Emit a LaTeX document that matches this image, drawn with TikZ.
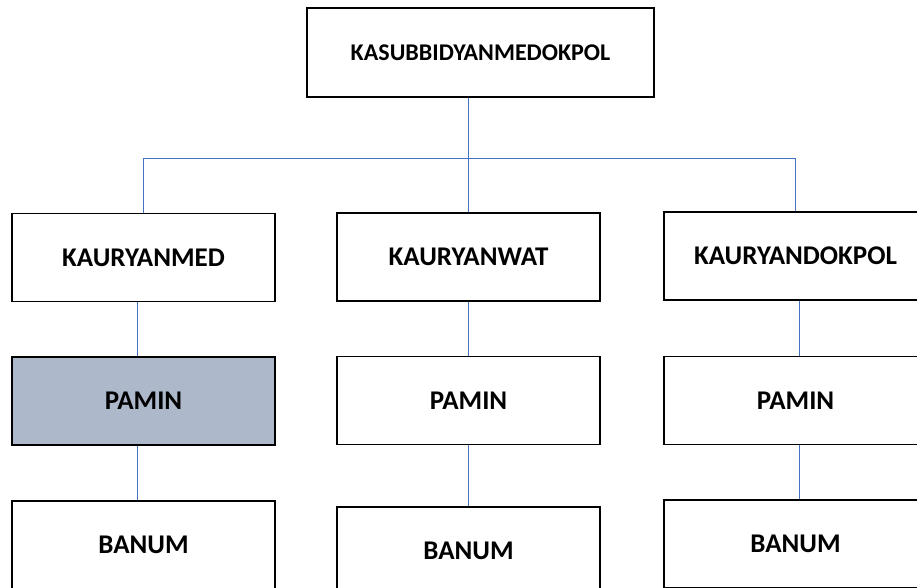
\documentclass[tikz,border=0pt]{standalone}
\usepackage{fontspec}
\setmainfont{Carlito}
\usepackage{tikz}
\usetikzlibrary{positioning}
\definecolor{linkblue}{HTML}{4472C4}
\definecolor{pamingray}{HTML}{ADB9CA}
\tikzset{unit box/.style={rectangle, draw, line width=1.6pt, fill=white, minimum width=263pt, minimum height=88pt, inner sep=2pt, font=\fontsize{27}{32}\selectfont\bfseries},
link/.style={draw=linkblue, line width=1.2pt},}

\begin{document}
\begin{tikzpicture}[x=1pt, y=-1pt]
        \useasboundingbox (0,0) rectangle (917,587);
        % Kasubbid
        \node[unit box, minimum width=347pt, minimum height=89pt, font=\fontsize{24}{29}\selectfont\bfseries] (kasub) at (480.5,52.5) {KASUBBIDYANMEDOKPOL};
        % Kaur
        \node[unit box] (med) at (143.5,257.5) {KAURYANMED};
        \node[unit box] (wat) at (468.5,257) {KAURYANWAT};
        \node[unit box] (dok) at (795.5,256) {KAURYANDOKPOL};
        % Pamin
        \node[unit box, fill=pamingray] [below = 54pt of med] (pamin1) {PAMIN};
        \node[unit box] [below = 54pt of wat] (pamin2) {PAMIN};
        \node[unit box] [below = 55pt of dok] (pamin3) {PAMIN};
        % Banum
        \node[unit box] [below = 54pt of pamin1] (banum1) {BANUM};
        \node[unit box] [below = 61pt of pamin2] (banum2) {BANUM};
        \node[unit box] [below = 54pt of pamin3] (banum3) {BANUM};
        % Paths
        \coordinate (bus) at (468.5,158.5);
        \path[link] (wat.north |- kasub.south) -- (wat.north)
        (med.north) |- (bus) -| (dok.north)
        ([xshift=-6pt]med.south) -- ([xshift=-6pt]pamin1.north)
        ([xshift=-6pt]pamin1.south) -- ([xshift=-6pt]banum1.north)
        (wat.south) -- (pamin2.north)
        (pamin2.south) -- (banum2.north)
        ([xshift=4pt]dok.south) -- ([xshift=4pt]pamin3.north)
        ([xshift=4pt]pamin3.south) -- ([xshift=4pt]banum3.north);
    \end{tikzpicture}
\end{document}
